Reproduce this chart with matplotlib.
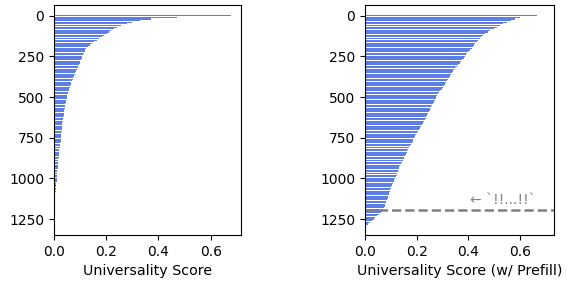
import numpy as np
import matplotlib
matplotlib.use("Agg")
import matplotlib.pyplot as plt

# rank of each feature (sampled every 10 ranks)
ranks = list(range(0, 1290, 10))

scores = [
    0.677, 0.47, 0.37, 0.33, 0.30, 0.278, 0.258, 0.243, 0.23, 0.22,
    0.212, 0.202, 0.192, 0.182, 0.172, 0.163, 0.153, 0.144, 0.136, 0.13,
    0.124, 0.12, 0.117, 0.114, 0.111, 0.109, 0.106, 0.103, 0.10, 0.098,
    0.096, 0.093, 0.091, 0.088, 0.085, 0.082, 0.079, 0.075, 0.073, 0.071,
    0.069, 0.067, 0.065, 0.063, 0.061, 0.059, 0.057, 0.055, 0.053, 0.051,
    0.049, 0.048, 0.046, 0.045, 0.044, 0.043, 0.042, 0.041, 0.040, 0.039,
    0.038, 0.037, 0.036, 0.035, 0.034, 0.033, 0.032, 0.031, 0.031, 0.030,
    0.030, 0.029, 0.028, 0.028, 0.027, 0.026, 0.025, 0.025, 0.024, 0.023,
    0.023, 0.022, 0.021, 0.021, 0.020, 0.019, 0.018, 0.018, 0.017, 0.016,
    0.016, 0.015, 0.015, 0.014, 0.014, 0.013, 0.013, 0.012, 0.012, 0.011,
    0.011, 0.010, 0.010, 0.009, 0.008, 0.008, 0.007, 0.007, 0.006, 0.005,
    0.005, 0.004, 0.004, 0.003, 0.003, 0.003, 0.002, 0.002, 0.002, 0.001,
    0.001, 0.001, 0.001, 0.0005, 0.0005, 0.0003, 0.0002, 0.0001, 0.0,
]

scores_prefill = [
    0.667, 0.60, 0.58, 0.565, 0.548, 0.535, 0.522, 0.51, 0.498, 0.485,
    0.475, 0.466, 0.458, 0.45, 0.444, 0.438, 0.432, 0.427, 0.422, 0.417,
    0.412, 0.406, 0.40, 0.395, 0.39, 0.386, 0.381, 0.376, 0.371, 0.366,
    0.360, 0.355, 0.350, 0.346, 0.342, 0.338, 0.334, 0.329, 0.325, 0.321,
    0.317, 0.313, 0.309, 0.304, 0.300, 0.296, 0.292, 0.288, 0.284, 0.280,
    0.276, 0.273, 0.270, 0.266, 0.263, 0.260, 0.256, 0.253, 0.250, 0.247,
    0.243, 0.240, 0.237, 0.234, 0.231, 0.228, 0.225, 0.221, 0.217, 0.213,
    0.209, 0.205, 0.201, 0.197, 0.193, 0.190, 0.187, 0.184, 0.180, 0.177,
    0.174, 0.171, 0.167, 0.164, 0.161, 0.158, 0.155, 0.152, 0.149, 0.146,
    0.142, 0.139, 0.136, 0.133, 0.131, 0.128, 0.126, 0.124, 0.122, 0.120,
    0.117, 0.114, 0.111, 0.108, 0.105, 0.102, 0.100, 0.098, 0.096, 0.094,
    0.092, 0.090, 0.088, 0.086, 0.083, 0.081, 0.079, 0.076, 0.073, 0.069,
    0.065, 0.060, 0.054, 0.047, 0.040, 0.033, 0.026, 0.018, 0.010,
]

threshold_rank = 1195
annot_text = "\u2190 `!!...!!`"
xlabels = ["Universality Score", "Universality Score (w/ Prefill)"]
xticks = [0.0, 0.2, 0.4, 0.6]
yticks = [0, 250, 500, 750, 1000, 1250]

fig = plt.figure(figsize=(5.67, 2.84), dpi=100)
ax1 = fig.add_axes([54 / 567, 49 / 284, 187 / 567, 230 / 284])
ax2 = fig.add_axes([365 / 567, 49 / 284, 189 / 567, 230 / 284])

for ax, vals, lab, xmax in [(ax1, scores, xlabels[0], 0.716),
                            (ax2, scores_prefill, xlabels[1], 0.731)]:
    ax.barh(ranks, vals, height=7.5, color="royalblue", linewidth=0, alpha=0.85)
    ax.set_xlim(0, xmax)
    ax.set_ylim(1348, -66)
    ax.set_xticks(xticks)
    ax.set_yticks(yticks)
    ax.tick_params(labelsize=10)
    ax.set_xlabel(lab, fontsize=10.3)

ax2.axhline(threshold_rank, color="gray", linestyle="--", linewidth=1.8)
ax2.text(0.405, 1160, annot_text, color="gray", fontsize=10, va="baseline")

fig.savefig("out.png", dpi=100)
